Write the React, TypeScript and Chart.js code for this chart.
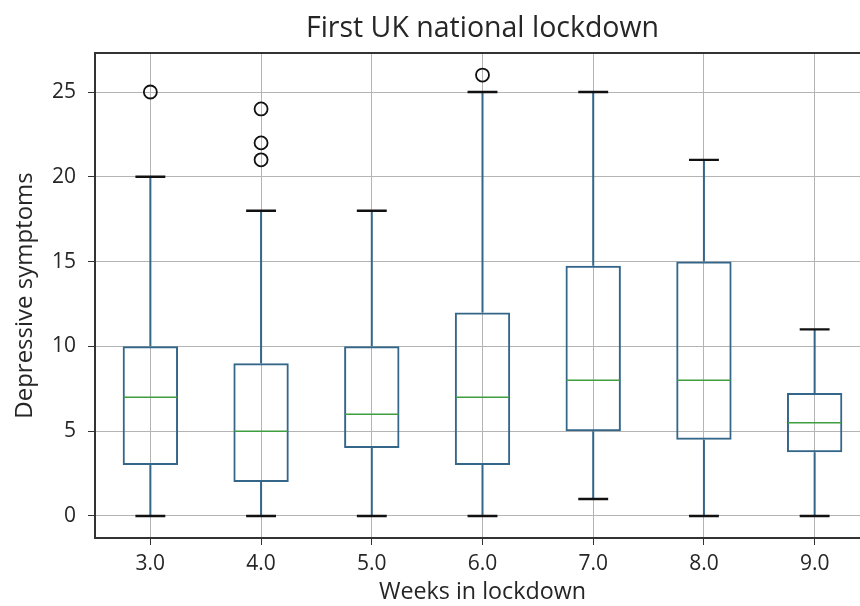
import React, { useEffect, useRef } from "react";
import { Chart, registerables } from "chart.js";

Chart.register(...registerables);

const categories = ["3.0", "4.0", "5.0", "6.0", "7.0", "8.0", "9.0"];
const whiskerLow = [0, 0, 0, 0, 1, 0, 0];
const q1 = [3, 2, 4, 3, 5, 4.5, 3.75];
const medians = [7, 5, 6, 7, 8, 8, 5.5];
const q3 = [10, 9, 10, 12, 14.75, 15, 7.25];
const whiskerHigh = [20, 18, 18, 25, 25, 21, 11];
const outlierCats = ["3.0", "4.0", "4.0", "4.0", "6.0"];
const outlierVals = [25, 21, 22, 24, 26];
const yTicks = [0, 5, 10, 15, 20, 25];

const FONT = "'Open Sans', 'DejaVu Sans', sans-serif";
const BOX = "#34668a";
const MED = "#3f9e3f";
const GRID = "#b4b4b4";
const SPINE = "#333333";
const TEXT = "#262626";

const boxParts = {
  id: "boxParts",
  afterDatasetsDraw(chart: any) {
    const { ctx, scales } = chart;
    const xs = scales.x;
    const ys = scales.y;
    const step = xs.getPixelForValue(1) - xs.getPixelForValue(0);
    const boxHalf = step * 0.25;
    const capHalf = step * 0.135;
    ctx.save();
    for (let i = 0; i < categories.length; i++) {
      const x = xs.getPixelForValue(i);
      ctx.strokeStyle = BOX;
      ctx.lineWidth = 2;
      ctx.beginPath();
      ctx.moveTo(x, ys.getPixelForValue(q3[i]));
      ctx.lineTo(x, ys.getPixelForValue(whiskerHigh[i]));
      ctx.moveTo(x, ys.getPixelForValue(q1[i]));
      ctx.lineTo(x, ys.getPixelForValue(whiskerLow[i]));
      ctx.stroke();
      ctx.strokeStyle = "#111";
      ctx.lineWidth = 2.4;
      ctx.beginPath();
      const yh = ys.getPixelForValue(whiskerHigh[i]);
      const yl = ys.getPixelForValue(whiskerLow[i]);
      ctx.moveTo(x - capHalf, yh);
      ctx.lineTo(x + capHalf, yh);
      ctx.moveTo(x - capHalf, yl);
      ctx.lineTo(x + capHalf, yl);
      ctx.stroke();
      ctx.strokeStyle = MED;
      ctx.lineWidth = 1.5;
      ctx.beginPath();
      const ym = ys.getPixelForValue(medians[i]);
      ctx.moveTo(x - boxHalf + 1, ym);
      ctx.lineTo(x + boxHalf - 1, ym);
      ctx.stroke();
    }
    ctx.restore();
  },
};

const frame = {
  id: "frame",
  afterDraw(chart: any) {
    const { ctx, chartArea } = chart;
    ctx.save();
    ctx.strokeStyle = SPINE;
    ctx.lineWidth = 2;
    ctx.beginPath();
    ctx.moveTo(chartArea.left, chartArea.top);
    ctx.lineTo(chartArea.right, chartArea.top);
    ctx.lineTo(chartArea.right, chartArea.bottom);
    ctx.stroke();
    ctx.restore();
  },
};

export default function App() {
  const ref = useRef<HTMLCanvasElement>(null);
  useEffect(() => {
    const chart = new Chart(ref.current!, {
      type: "bar",
      data: {
        labels: categories,
        datasets: [
          {
            type: "bar",
            data: categories.map((_, i) => [q1[i], q3[i]]) as any,
            backgroundColor: "rgba(0,0,0,0)",
            borderColor: BOX,
            borderWidth: 2,
            borderSkipped: false,
            barPercentage: 0.5,
            categoryPercentage: 1,
            grouped: false,
          },
          {
            type: "line",
            data: outlierCats.map((c, i) => ({ x: c, y: outlierVals[i] })) as any,
            showLine: false,
            pointStyle: "circle",
            pointRadius: 6.5,
            pointBorderColor: "#111",
            pointBackgroundColor: "rgba(0,0,0,0)",
            pointBorderWidth: 1.8,
          },
        ],
      },
      options: {
        animation: false,
        responsive: false,
        devicePixelRatio: 1,
        layout: { padding: { left: 0, right: 10, top: 0, bottom: 0 } },
        plugins: {
          legend: { display: false },
          tooltip: { enabled: false },
          title: {
            display: true,
            text: "First UK national lockdown",
            fullSize: false,
            color: TEXT,
            font: { family: FONT, size: 28.5, weight: "normal", lineHeight: 1.2 },
            padding: { top: 12, bottom: 6.8 },
          },
        },
        scales: {
          x: {
            type: "category",
            offset: true,
            grid: { offset: false, color: GRID, lineWidth: 1, tickLength: 7, tickColor: SPINE },
            border: { color: SPINE, width: 2 },
            ticks: { color: TEXT, font: { family: FONT, size: 21 }, padding: 6 },
            title: {
              display: true,
              text: "Weeks in lockdown",
              color: TEXT,
              font: { family: FONT, size: 23.3, lineHeight: 1.2 },
              padding: { top: 0, bottom: 0 },
            },
            afterFit(scale: any) {
              scale.height = 68;
            },
          },
          y: {
            min: -1.3,
            max: 27.3,
            afterBuildTicks(scale: any) {
              scale.ticks = yTicks.map((v) => ({ value: v }));
            },
            grid: { color: GRID, lineWidth: 1, tickLength: 7, tickColor: SPINE },
            border: { color: SPINE, width: 2 },
            ticks: { color: TEXT, font: { family: FONT, size: 21 }, padding: 12 },
            title: {
              display: true,
              text: "Depressive symptoms",
              color: TEXT,
              font: { family: FONT, size: 24, lineHeight: 1.2 },
              padding: { top: 11, bottom: 0 },
            },
            afterFit(scale: any) {
              scale.width = 95;
            },
          },
        },
      },
      plugins: [boxParts, frame],
    });
    return () => chart.destroy();
  }, []);
  return (
    <div
      style={{
        position: "absolute",
        left: 0,
        top: 0,
        width: 860,
        height: 606,
        overflow: "hidden",
        background: "#fff",
      }}
    >
      <canvas ref={ref} width={880} height={606} style={{ display: "block", width: 880, height: 606 }} />
    </div>
  );
}
